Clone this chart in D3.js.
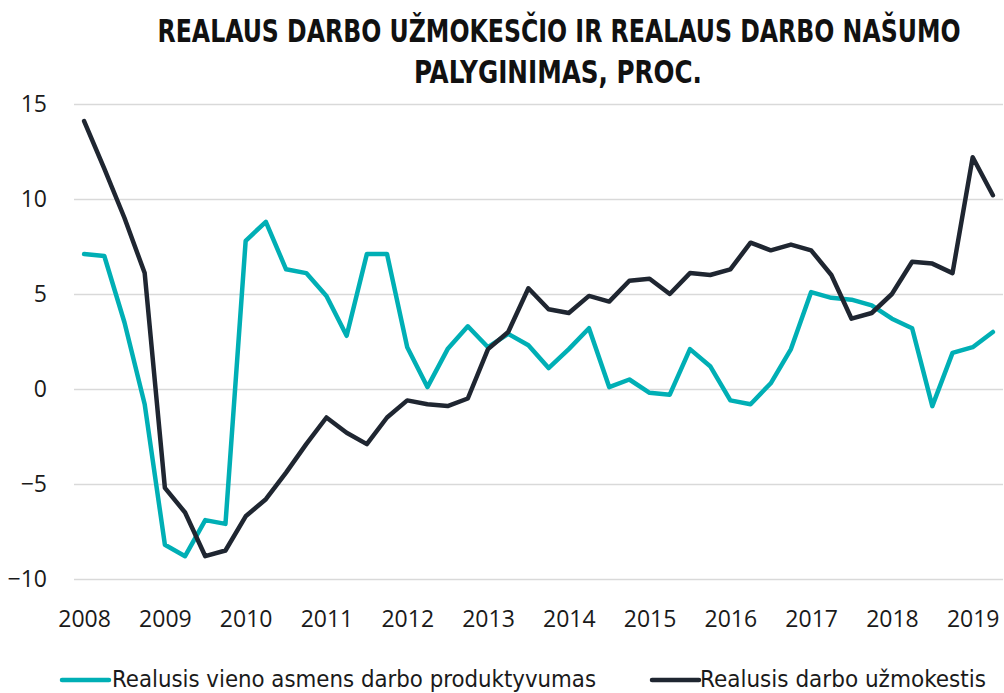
<!DOCTYPE html>
<html>
<head>
<meta charset="utf-8">
<script src="https://cdn.jsdelivr.net/npm/d3@7"></script>
<style>
  body { margin: 0; background: #fff; }
  .axis text { font-family: "Open Sans", "Noto Sans", sans-serif; font-size: 23px; fill: #1a1a1a; }
  .grid line { stroke: #d9d9d9; stroke-width: 1.5; }
  .title { font-family: "Liberation Sans Narrow", "DejaVu Sans Condensed", sans-serif; font-weight: bold; font-size: 27px; fill: #111; }
  .legend text { font-family: "Liberation Sans Narrow", "DejaVu Sans Condensed", sans-serif; font-size: 23px; fill: #1a1a1a; }
</style>
</head>
<body>
<div class="canvas"></div>
<script>
const years = ['2008', '2009', '2010', '2011', '2012', '2013', '2014', '2015', '2016', '2017', '2018', '2019']
const quarterNames = ['I', 'II', 'III', 'IV']
// quarterly categories, 2008 I .. 2019 II
const quarters = years.flatMap(y => quarterNames.map(q => `${y} ${q}`)).slice(0, 46)

const productivity = [
  7.1, 7.0, 3.5, -0.8, -8.2, -8.8, -6.9, -7.1,
  7.8, 8.8, 6.3, 6.1, 4.9, 2.8, 7.1, 7.1,
  2.2, 0.1, 2.1, 3.3, 2.2, 2.9, 2.3, 1.1,
  2.1, 3.2, 0.1, 0.5, -0.2, -0.3, 2.1, 1.2,
  -0.6, -0.8, 0.3, 2.1, 5.1, 4.8, 4.7, 4.4,
  3.7, 3.2, -0.9, 1.9, 2.2, 3.0
]
const wages = [
  14.1, 11.6, 9.0, 6.1, -5.2, -6.5, -8.8, -8.5,
  -6.7, -5.8, -4.4, -2.9, -1.5, -2.3, -2.9, -1.5,
  -0.6, -0.8, -0.9, -0.5, 2.1, 3.0, 5.3, 4.2,
  4.0, 4.9, 4.6, 5.7, 5.8, 5.0, 6.1, 6.0,
  6.3, 7.7, 7.3, 7.6, 7.3, 6.0, 3.7, 4.0,
  5.0, 6.7, 6.6, 6.1, 12.2, 10.2
]
const yTicks = [-10, -5, 0, 5, 10, 15]

const series = [
  { name: 'Realusis vieno asmens darbo produktyvumas', values: productivity, color: '#00afb5' },
  { name: 'Realusis darbo užmokestis', values: wages, color: '#1f2631' }
]

const width = 1004
const height = 693
const plotLeft = 74
const plotRight = 1003
const plotTop = 104
const plotBottom = 579

const svg = d3.select('.canvas').append('svg')
  .attr('width', width)
  .attr('height', height)

const x = d3.scalePoint()
  .domain(quarters)
  .range([plotLeft, plotRight])
  .padding(0.5)

const y = d3.scaleLinear()
  .domain([-10, 15])
  .range([plotBottom, plotTop])

// title (stretched vertically to match the tall condensed face)
const titleLines = [
  { text: 'REALAUS DARBO UŽMOKESČIO IR REALAUS DARBO NAŠUMO', cx: 559, base: 42, w: 803 },
  { text: 'PALYGINIMAS, PROC.', cx: 558, base: 83, w: 288 }
]
titleLines.forEach(t => {
  svg.append('text')
    .attr('class', 'title')
    .attr('text-anchor', 'middle')
    .attr('transform', `translate(${t.cx},${t.base}) scale(1,1.2)`)
    .attr('textLength', t.w).attr('lengthAdjust', 'spacingAndGlyphs')
    .text(t.text)
})

// gridlines
svg.append('g')
  .attr('class', 'grid')
  .attr('transform', `translate(${plotLeft},0)`)
  .call(d3.axisLeft(y).tickValues(yTicks).tickSize(-(plotRight - plotLeft)).tickFormat(''))
  .call(g => g.select('.domain').remove())

// axes
svg.append('g')
  .attr('class', 'axis')
  .attr('transform', `translate(${plotLeft},0)`)
  .call(d3.axisLeft(y).tickValues(yTicks).tickSize(0).tickPadding(27))
  .call(g => g.select('.domain').remove())

svg.append('g')
  .attr('class', 'axis')
  .attr('transform', `translate(0,${plotBottom})`)
  .call(d3.axisBottom(x)
    .tickValues(quarters.filter(q => q.endsWith(' I')))
    .tickFormat(q => q.split(' ')[0])
    .tickSize(0)
    .tickPadding(32))
  .call(g => g.select('.domain').remove())

// lines
const line = d3.line()
  .x((d, i) => x(quarters[i]))
  .y(d => y(d))

svg.selectAll('path.series')
  .data(series)
  .enter().append('path')
  .attr('class', 'series')
  .attr('fill', 'none')
  .attr('stroke', d => d.color)
  .attr('stroke-width', 4.5)
  .attr('stroke-linejoin', 'round')
  .attr('stroke-linecap', 'round')
  .attr('d', d => line(d.values))

// legend
const legendPos = [
  { lx: 62, tx: 112, tw: 484 },
  { lx: 652, tx: 700, tw: 286 }
]
const legend = svg.append('g').attr('class', 'legend')
series.forEach((s, i) => {
  const p = legendPos[i]
  legend.append('line')
    .attr('x1', p.lx).attr('x2', p.lx + 47)
    .attr('y1', 680).attr('y2', 680)
    .attr('stroke', s.color)
    .attr('stroke-width', 4.5)
    .attr('stroke-linecap', 'round')
  legend.append('text')
    .attr('x', p.tx).attr('y', 687)
    .attr('textLength', p.tw).attr('lengthAdjust', 'spacingAndGlyphs')
    .text(s.name)
})
</script>
</body>
</html>
